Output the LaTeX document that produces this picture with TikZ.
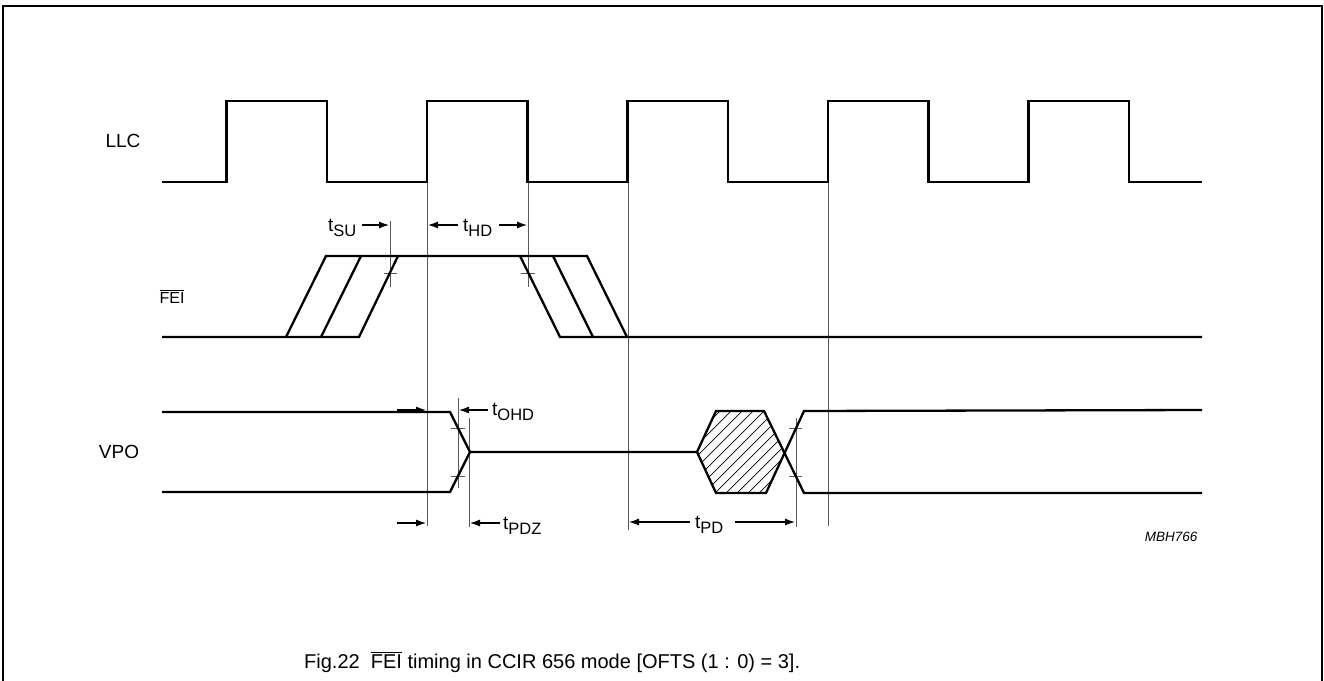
\documentclass[tikz,border=0pt]{standalone}
\usepackage{fontspec}
\setmainfont{Liberation Sans}
\usetikzlibrary{arrows.meta}
\newcommand{\tsb}[1]{t\raisebox{-5pt}{\fontsize{16.5}{18}\selectfont #1}}
\newcommand{\ovl}[1]{\vbox{\hrule height 0.9pt\kern 1.6pt\hbox{#1}}}
\begin{document}
\begin{tikzpicture}[x=1pt,y=-1pt,
  wave/.style={line width=2.3pt, line join=miter, line cap=butt},
  guide/.style={line width=0.9pt, draw=black!65},
  arr/.style={-{Latex[length=10pt,width=7pt]}, line width=1.1pt},
  lbl/.style={font=\fontsize{19}{22}\selectfont, inner sep=0pt},
  hatch/.style={line width=0.7pt}]
\useasboundingbox (0,0) rectangle (1324,680);
% frame
\draw[line width=2pt] (3,700) -- (3,6) -- (1322,6) -- (1322,700);
% guide lines
\draw[guide] (427,182) -- (427,526);
\draw[guide] (528,182) -- (528,287);
\draw[guide] (628,182) -- (628,530);
\draw[guide] (828,182) -- (828,526);
\draw[guide] (390,221) -- (390,287);
\draw[guide] (384,273) -- (397,273);
\draw[guide] (521,273) -- (535,273);
\draw[guide] (458,398) -- (458,488);
\draw[guide] (451,428) -- (465,428);
\draw[guide] (451,476) -- (465,476);
\draw[guide] (469,418) -- (469,527);
\draw[guide] (796,418) -- (796,527);
\draw[guide] (789,428) -- (802,428);
\draw[guide] (789,476) -- (802,476);
% LLC
\draw[wave] (162,182) -- (226.5,182) -- (226.5,101) -- (327,101) -- (327,182)
  -- (427,182) -- (427,101) -- (527.5,101) -- (527.5,182) -- (627.5,182)
  -- (627.5,101) -- (728,101) -- (728,182) -- (828,182) -- (828,101)
  -- (928.5,101) -- (928.5,182) -- (1028.5,182) -- (1028.5,101) -- (1129,101)
  -- (1129,182) -- (1202,182);
% FEI
\draw[wave] (162,337) -- (359,337) -- (398,256);
\draw[wave] (286,337) -- (326,256) -- (587,256) -- (627,337);
\draw[wave] (321,337) -- (361,256);
\draw[wave] (520,256) -- (560,337) -- (1202,337);
\draw[wave] (553,256) -- (593,337);
% VPO
\begin{scope}
  \clip (697,452) -- (716,411) -- (764,411) -- (785,452) -- (766,493) -- (716,493) -- cycle;
  \foreach \k in {0,...,19} \draw[hatch] (598+\k*11,500) -- ++(100,-100);
\end{scope}
\draw[wave] (162,412) -- (450,412) -- (470,452) -- (697,452) -- (716,411)
  -- (764,411) -- (804,493) -- (1202,493);
\draw[wave] (162,492) -- (450,492) -- (470,452);
\draw[wave] (697,452) -- (716,493) -- (766,493) -- (804,411) -- (1202,410);
% labels
\node[lbl] (llc) at (123,141) {LLC};
\node[lbl, font=\fontsize{16}{18}\selectfont] (fei) at (172,297) {\ovl{FEI}};
\node[lbl] (vpo) at (119,452) {VPO};
% timing labels
\node[lbl, anchor=west] (tsu) at (328,228) {\tsb{SU}};
\draw[arr] (362,225) -- (389,225);
\node[lbl, anchor=west] (thd) at (463,228) {\tsb{HD}};
\draw[arr] (458,225) -- (428,225);
\draw[arr] (499,225) -- (527,225);
\draw[arr] (397,410) -- (426,410);
\draw[arr] (488,410) -- (459,410);
\node[lbl, anchor=west] (tohd) at (492,412) {\tsb{OHD}};
\draw[arr] (397,523) -- (426,523);
\draw[arr] (500,523) -- (470,523);
\node[lbl, anchor=west] (tpdz) at (503,526) {\tsb{PDZ}};
\draw[arr] (690,522) -- (629,522);
\node[lbl, anchor=west] (tpd) at (695,525) {\tsb{PD}};
\draw[arr] (735,522) -- (795,522);
\node[font=\fontsize{13.5}{15}\selectfont\itshape, inner sep=0pt] (mbh) at (1171,537) {MBH766};
\node[font=\fontsize{20}{24}\selectfont, inner sep=0pt, anchor=base west] (cap) at (304,668)
  {Fig.22\ \ \ovl{FEI} timing in CCIR 656 mode [OFTS (1 : 0) = 3].};
\end{tikzpicture}
\end{document}
